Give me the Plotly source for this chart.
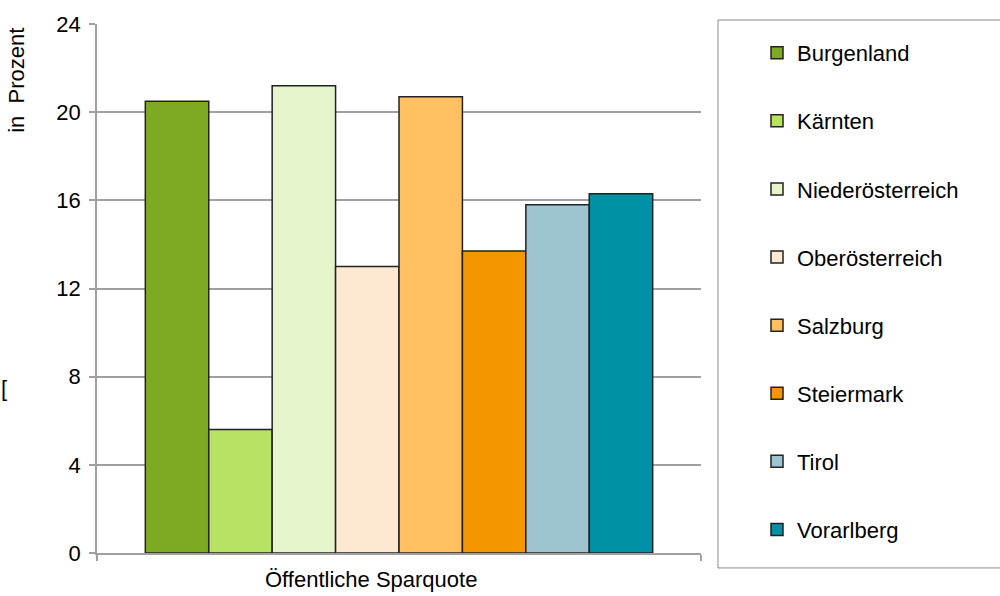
import plotly.graph_objects as go

# Öffentliche Sparquote by Bundesland, in Prozent
category = ["Öffentliche Sparquote"]
regions = ["Burgenland", "Kärnten", "Niederösterreich", "Oberösterreich",
           "Salzburg", "Steiermark", "Tirol", "Vorarlberg"]
values = [20.5, 5.6, 21.2, 13.0, 20.7, 13.7, 15.8, 16.3]
colors = ["#7EAA23", "#B8E263", "#E5F4CB", "#FDE9D2",
          "#FEC060", "#F39600", "#9EC4D2", "#0091A7"]
y_ticks = [0, 4, 8, 12, 16, 20, 24]

FONT = "Liberation Sans, Arial, sans-serif"
GRID = "#A0A0A0"

# plot area in pixels
W, H = 1000, 596
L, R, T, B = 97, 701, 22, 553


def px_x(p):
    return (p - L) / (R - L)


def px_y(p):
    return (B - p) / (B - T)


fig = go.Figure()
for name, val, col in zip(regions, values, colors):
    fig.add_trace(go.Bar(
        x=category, y=[val], name=name, legendgroup=name,
        marker=dict(color=col, line=dict(color="#222222", width=1.5)),
    ))

# legend frame
fig.add_shape(type="rect", xref="paper", yref="paper",
              x0=px_x(718), x1=px_x(1010), y0=px_y(568), y1=px_y(18),
              line=dict(color="#8C8C8C", width=1), fillcolor="rgba(0,0,0,0)")

# axis titles
fig.add_annotation(text="in\u00a0 Prozent", textangle=-90, xref="paper", yref="paper",
                   x=px_x(17), y=px_y(79), xanchor="center", yanchor="middle",
                   showarrow=False, font=dict(family=FONT, size=22, color="#000000"))
fig.add_annotation(text="[", xref="paper", yref="paper", xanchor="left",
                   yanchor="middle", x=px_x(-1), y=px_y(388), showarrow=False,
                   font=dict(family=FONT, size=22, color="#000000"))
fig.add_annotation(text=category[0], xref="paper", yref="paper",
                   x=px_x(371), y=px_y(580), xanchor="center", yanchor="middle",
                   showarrow=False, font=dict(family=FONT, size=22, color="#000000"))

fig.update_layout(
    width=W, height=H,
    margin=dict(l=L, r=W - R, t=T, b=H - B, pad=0),
    paper_bgcolor="white", plot_bgcolor="white",
    barmode="group", bargap=0.16, bargroupgap=0,
    font=dict(family=FONT, size=22, color="#000000"),
    showlegend=True,
    legend=dict(
        x=px_x(757), xanchor="left", y=px_y(30), yanchor="top",
        traceorder="grouped", tracegroupgap=36.5, maxheight=H,
        bgcolor="rgba(0,0,0,0)", borderwidth=0,
        itemwidth=30, font=dict(family=FONT, size=22, color="#000000"),
    ),
    xaxis=dict(
        showline=True, linecolor=GRID, linewidth=1.5, showticklabels=False,
        ticks="outside", tickson="boundaries", ticklen=6, tickcolor=GRID,
        tickwidth=1.5, showgrid=False,
    ),
    yaxis=dict(
        range=[0, 24], tickvals=y_ticks, showline=True, linecolor=GRID,
        linewidth=1.5, ticks="outside", ticklen=6, tickcolor=GRID, tickwidth=1.5,
        gridcolor=GRID, gridwidth=1.5, zeroline=False, ticklabelstandoff=4,
    ),
)

fig.write_html("out.html")
